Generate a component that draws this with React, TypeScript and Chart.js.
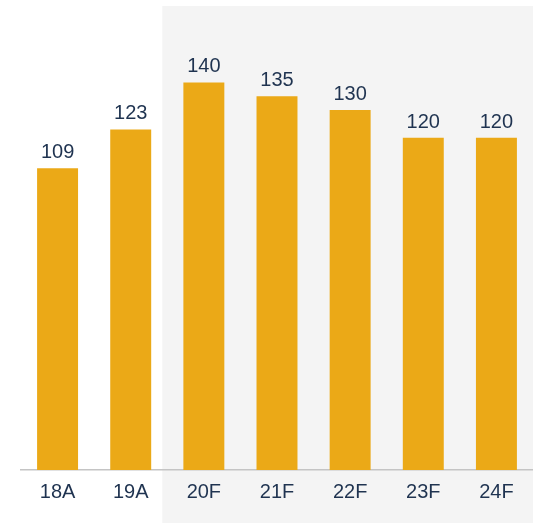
import React, { useEffect, useRef } from "react";
import { Chart, registerables } from "chart.js";

Chart.register(...registerables);

const categories = ["18A", "19A", "20F", "21F", "22F", "23F", "24F"];
const values = [109, 123, 140, 135, 130, 120, 120];
const forecastStartIndex = 2;

const BAR_COLOR = "#EBA917";
const TEXT_COLOR = "#1F3350";
const PANEL_COLOR = "#F4F4F4";
const FONT = "'Liberation Sans', Arial, sans-serif";

export default function App() {
  const ref = useRef<HTMLCanvasElement | null>(null);

  useEffect(() => {
    if (!ref.current) return;
    const panelPlugin = {
      id: "panel",
      beforeDraw(chart: any) {
        const { ctx, scales, width, height } = chart;
        const x = scales.x;
        const left =
          (x.getPixelForValue(forecastStartIndex - 1) + x.getPixelForValue(forecastStartIndex)) / 2 - 5;
        ctx.save();
        ctx.fillStyle = PANEL_COLOR;
        ctx.fillRect(left, 6, width - left, height - 6);
        ctx.restore();
      },
    };
    const labelPlugin = {
      id: "valueLabels",
      afterDatasetsDraw(chart: any) {
        const { ctx } = chart;
        const meta = chart.getDatasetMeta(0);
        ctx.save();
        ctx.font = `20px ${FONT}`;
        ctx.fillStyle = TEXT_COLOR;
        ctx.textAlign = "center";
        ctx.textBaseline = "alphabetic";
        meta.data.forEach((bar: any, i: number) => {
          ctx.fillText(String(values[i]), bar.x, bar.y - 10);
        });
        ctx.restore();
      },
    };
    const chart = new Chart(ref.current, {
      type: "bar",
      data: {
        labels: categories,
        datasets: [
          {
            data: values,
            backgroundColor: BAR_COLOR,
            borderWidth: 0,
            categoryPercentage: 1,
            barPercentage: 0.56,
          },
        ],
      },
      options: {
        responsive: false,
        animation: false,
        layout: { padding: { top: 27, left: 21, right: 0, bottom: 0 } },
        plugins: { legend: { display: false }, tooltip: { enabled: false } },
        scales: {
          x: {
            grid: { display: false, drawTicks: false },
            border: { display: true, color: "#C4C4C4", width: 1.5 },
            ticks: { color: TEXT_COLOR, font: { size: 20, family: FONT }, padding: 10 },
            afterFit(scale: any) {
              scale.height = 53;
            },
          },
          y: {
            display: false,
            min: 0,
            max: 160,
          },
        },
      },
      plugins: [panelPlugin, labelPlugin],
    });
    return () => chart.destroy();
  }, []);

  return (
    <div style={{ position: "fixed", left: 0, top: 0, width: 533, height: 523, background: "#fff" }}>
      <canvas ref={ref} width={533} height={523} style={{ display: "block" }} />
    </div>
  );
}
